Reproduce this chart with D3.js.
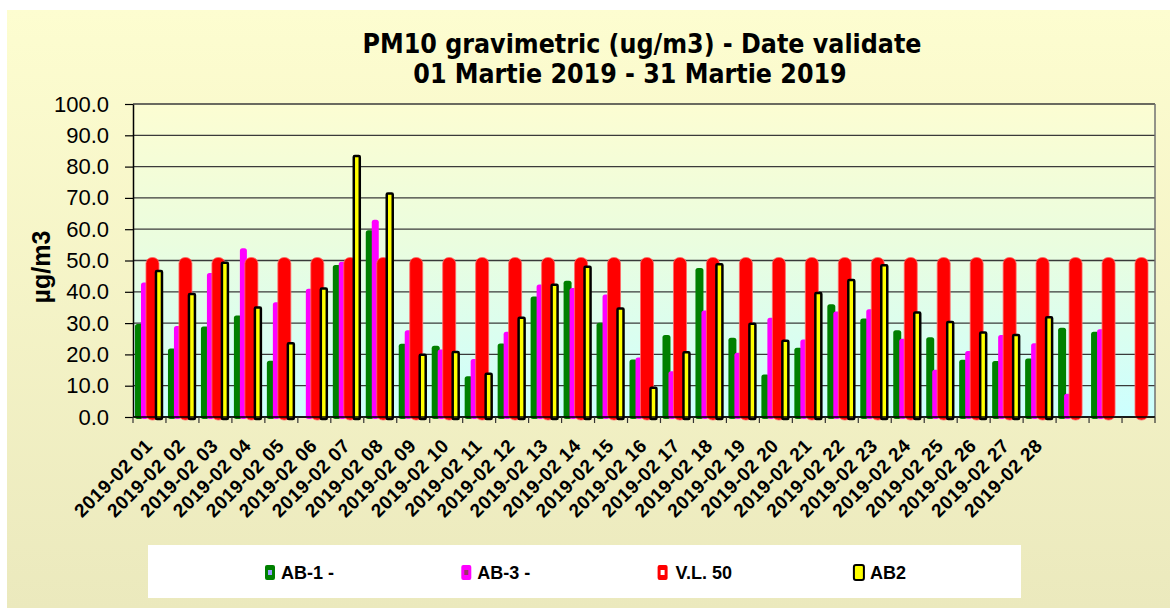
<!DOCTYPE html>
<html>
<head>
<meta charset="utf-8">
<script src="https://cdn.jsdelivr.net/npm/d3@7"></script>
<style>
  body { margin: 0; background: #fff; }
  svg { display: block; }
</style>
</head>
<body>
<div id="chart"></div>
<script>
// category labels (last three days have no label in the original)
var dateLabels = ["2019-02 01","2019-02 02","2019-02 03","2019-02 04","2019-02 05","2019-02 06","2019-02 07",
  "2019-02 08","2019-02 09","2019-02 10","2019-02 11","2019-02 12","2019-02 13","2019-02 14","2019-02 15",
  "2019-02 16","2019-02 17","2019-02 18","2019-02 19","2019-02 20","2019-02 21","2019-02 22","2019-02 23",
  "2019-02 24","2019-02 25","2019-02 26","2019-02 27","2019-02 28","","",""];

var ab1 = [29.7, 21.9, 28.9, 32.4, 18.0, null, 48.6, 59.7, 23.4, 22.8, 13.0, 23.5, 38.5, 43.5, 30.1, 18.4,
  26.2, 47.6, 25.3, 13.6, 22.1, 36.0, 31.5, 27.7, 25.5, 18.3, 17.9, 18.7, 28.5, 27.2, null];
var ab3 = [43.0, 29.1, 46.0, 53.9, 36.7, 41.0, 49.6, 63.0, 27.7, 21.6, 18.5, 27.2, 42.3, 41.2, 39.1, 19.0,
  14.6, 34.0, 20.5, 31.7, 24.8, 33.7, 34.4, 25.0, 15.1, 21.1, 26.2, 23.6, 7.4, 28.0, null];
var vl50 = [50, 50, 50, 50, 50, 50, 50, 50, 50, 50, 50, 50, 50, 50, 50, 50,
  50, 50, 50, 50, 50, 50, 50, 50, 50, 50, 50, 50, 50, 50, 50];
var ab2 = [47.0, 39.6, 49.6, 35.3, 23.9, 41.4, 83.7, 71.7, 20.2, 21.1, 14.1, 32.0, 42.6, 48.3, 35.0, 9.7,
  21.0, 49.1, 30.1, 24.7, 39.9, 44.1, 48.8, 33.7, 30.7, 27.3, 26.5, 32.2, null, null, null];

var yTicks = [0, 10, 20, 30, 40, 50, 60, 70, 80, 90, 100];
var seriesNames = ["AB-1 -", "AB-3 -", "V.L. 50", "AB2"];

var W = 1170, H = 608;
var plot = {left: 133, top: 104, right: 1155, bottom: 417};

var svg = d3.select("#chart").append("svg")
  .attr("width", W)
  .attr("height", H);

var defs = svg.append("defs");

var bgGrad = defs.append("linearGradient").attr("id", "bgGrad")
  .attr("x1", 0).attr("y1", 0).attr("x2", 0).attr("y2", 1);
bgGrad.append("stop").attr("offset", "0%").attr("stop-color", "#fdfdd0");
bgGrad.append("stop").attr("offset", "100%").attr("stop-color", "#ebe9bd");

var plotGrad = defs.append("linearGradient").attr("id", "plotGrad")
  .attr("x1", 0).attr("y1", 0).attr("x2", 0).attr("y2", 1);
plotGrad.append("stop").attr("offset", "0%").attr("stop-color", "#fcfdd2");
plotGrad.append("stop").attr("offset", "45%").attr("stop-color", "#eafddf");
plotGrad.append("stop").attr("offset", "100%").attr("stop-color", "#ccffff");

// outer chart background
svg.append("rect")
  .attr("x", 7).attr("y", 10)
  .attr("width", W - 7).attr("height", H - 10)
  .attr("fill", "url(#bgGrad)");

// plot area
svg.append("rect")
  .attr("x", plot.left).attr("y", plot.top)
  .attr("width", plot.right - plot.left).attr("height", plot.bottom - plot.top)
  .attr("fill", "url(#plotGrad)");

var x = d3.scaleBand()
  .domain(d3.range(dateLabels.length))
  .range([plot.left, plot.right])
  .padding(0);

var y = d3.scaleLinear()
  .domain([0, 100])
  .range([plot.bottom, plot.top]);

var bw = x.bandwidth();

// gridlines
svg.append("g")
  .selectAll("line")
  .data(yTicks)
  .join("line")
    .attr("x1", plot.left).attr("x2", plot.right)
    .attr("y1", function(d){ return y(d); })
    .attr("y2", function(d){ return y(d); })
    .attr("stroke", "#3a3a3a")
    .attr("stroke-width", 1.3);

// right border of the plot
svg.append("line")
  .attr("x1", plot.right).attr("x2", plot.right)
  .attr("y1", plot.top).attr("y2", plot.bottom)
  .attr("stroke", "#707070").attr("stroke-width", 1.5);

// y axis
var yAxis = svg.append("g")
  .attr("transform", "translate(" + plot.left + ",0)")
  .call(d3.axisLeft(y).tickValues(yTicks).tickFormat(d3.format(".1f"))
    .tickSize(8).tickSizeOuter(0).tickPadding(16));
yAxis.select(".domain").attr("stroke", "#000").attr("stroke-width", 1.5);
yAxis.selectAll(".tick line").attr("stroke", "#000").attr("stroke-width", 1.2);
yAxis.selectAll("text")
  .attr("font-family", "Liberation Sans, Arial, sans-serif")
  .attr("font-size", 22)
  .attr("fill", "#000");

// series bars (offsets are fractions of the category width)
var bars = [
  {values: ab1,  off: 2 / 33,  w: 8 / 33,  fill: "#008000", stroke: "none", sw: 0, cap: 0, rx: 2.5},
  {values: ab3,  off: 8 / 33,  w: 7 / 33,  fill: "#ff00ff", stroke: "none", sw: 0, cap: 0, rx: 2.5},
  {values: vl50, off: 13 / 33, w: 13 / 33, fill: "#ff0000", stroke: "#ff6a6a", sw: 0.8, cap: 3, rx: 6},
  {values: ab2,  off: 23 / 33, w: 6 / 33,  fill: "#ffff00", stroke: "#000", sw: 2.5, cap: -1, rx: 1}
];

bars.forEach(function(s){
  var pts = s.values.map(function(v, i){ return {i: i, v: v}; })
    .filter(function(d){ return d.v != null; });
  svg.append("g")
    .selectAll("rect")
    .data(pts)
    .join("rect")
      .attr("x", function(d){ return x(d.i) + s.off * bw; })
      .attr("y", function(d){ return y(d.v) - s.cap; })
      .attr("width", s.w * bw)
      .attr("height", function(d){ return y(0) - y(d.v) + s.cap + (s.cap > 0 ? s.cap : 2); })
      .attr("rx", s.rx)
      .attr("fill", s.fill)
      .attr("stroke", s.stroke)
      .attr("stroke-width", s.sw);
});

// x axis line and tick marks between categories
svg.append("line")
  .attr("x1", plot.left).attr("x2", plot.right)
  .attr("y1", plot.bottom).attr("y2", plot.bottom)
  .attr("stroke", "#000").attr("stroke-width", 1.5);

svg.append("g")
  .selectAll("line")
  .data(d3.range(dateLabels.length + 1))
  .join("line")
    .attr("x1", function(i){ return plot.left + i * bw; })
    .attr("x2", function(i){ return plot.left + i * bw; })
    .attr("y1", plot.bottom)
    .attr("y2", plot.bottom + 6)
    .attr("stroke", "#333")
    .attr("stroke-width", 1.2);

// rotated category labels
svg.append("g")
  .selectAll("text")
  .data(dateLabels)
  .join("text")
    .attr("transform", function(d, i){
      return "translate(" + (x(i) + bw / 2 + 4) + "," + 447 + ") rotate(-45)";
    })
    .attr("text-anchor", "end")
    .attr("font-family", "Liberation Sans, Arial, sans-serif")
    .attr("font-weight", "bold")
    .attr("font-size", 19)
    .attr("letter-spacing", 0.5)
    .attr("fill", "#000")
    .text(function(d){ return d; });

// y axis title
svg.append("text")
  .attr("transform", "translate(50,267) rotate(-90)")
  .attr("text-anchor", "middle")
  .attr("font-family", "Liberation Sans, Arial, sans-serif")
  .attr("font-weight", "bold")
  .attr("font-size", 25)
  .text("µg/m3");

// title
svg.append("text")
  .attr("x", 642).attr("y", 53)
  .attr("text-anchor", "middle")
  .attr("font-family", "DejaVu Sans Condensed, DejaVu Sans, sans-serif")
  .attr("font-weight", "bold")
  .attr("font-size", 26.5)
  .text("PM10 gravimetric (ug/m3) - Date validate");
svg.append("text")
  .attr("x", 630).attr("y", 83)
  .attr("text-anchor", "middle")
  .attr("font-family", "DejaVu Sans Condensed, DejaVu Sans, sans-serif")
  .attr("font-weight", "bold")
  .attr("font-size", 26.5)
  .text("01 Martie 2019 - 31 Martie 2019");

// legend
svg.append("rect")
  .attr("x", 148).attr("y", 545)
  .attr("width", 873).attr("height", 53)
  .attr("fill", "#fff");

var legendItems = svg.append("g")
  .selectAll("g")
  .data(seriesNames)
  .join("g")
    .attr("transform", function(d, i){ return "translate(" + (265 + i * 196.3) + ",565)"; });

var markerFill = ["#008000", "#ff00ff", "#ff0000", "#ffff00"];
var markerInner = ["#9999ff", "#993366", "#ffffff", null];

legendItems.append("rect")
  .attr("width", 10).attr("height", 15)
  .attr("rx", 2)
  .attr("fill", function(d, i){ return markerFill[i]; })
  .attr("stroke", function(d, i){ return i == 3 ? "#000" : "none"; })
  .attr("stroke-width", 2);

legendItems.filter(function(d, i){ return markerInner[i] != null; })
  .append("rect")
    .attr("x", 3).attr("y", 5)
    .attr("width", 4).attr("height", 5)
    .attr("fill", function(d){ return markerInner[seriesNames.indexOf(d)]; });

legendItems.append("text")
  .attr("x", function(d, i){ return i == 2 ? 18 : 16; })
  .attr("y", 14)
  .attr("font-family", "Liberation Sans, Arial, sans-serif")
  .attr("font-weight", "bold")
  .attr("font-size", 18)
  .attr("fill", "#000")
  .text(function(d){ return d; });
</script>
</body>
</html>
